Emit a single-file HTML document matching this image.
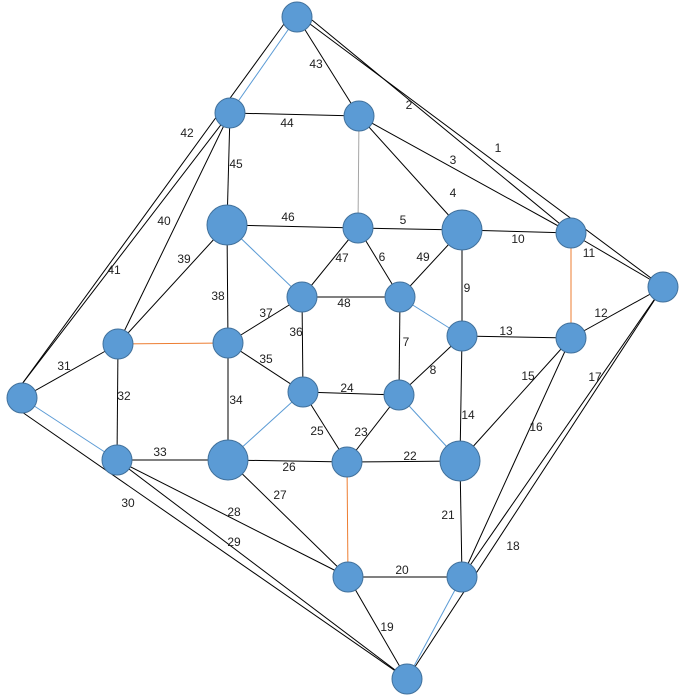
<!DOCTYPE html>
<html><head><meta charset="utf-8"><style>
html,body{margin:0;padding:0;background:#fff;}
svg{display:block;}
text{font-family:"Liberation Sans",sans-serif;font-size:12px;fill:#222;}
</style></head><body>
<svg width="684" height="695" viewBox="0 0 684 695" xmlns="http://www.w3.org/2000/svg">
<g stroke="#000" stroke-width="1" fill="none">
<line x1="310" y1="24" x2="663" y2="287"/>
<line x1="312" y1="20" x2="571" y2="233"/>
<line x1="359" y1="116" x2="571" y2="233"/>
<line x1="359" y1="116" x2="462" y2="230"/>
<line x1="358" y1="228" x2="462" y2="230"/>
<line x1="358" y1="228" x2="400" y2="297"/>
<line x1="400" y1="297" x2="399" y2="395"/>
<line x1="399" y1="395" x2="462" y2="336"/>
<line x1="462" y1="230" x2="462" y2="336"/>
<line x1="462" y1="230" x2="571" y2="233"/>
<line x1="571" y1="233" x2="663" y2="287"/>
<line x1="571" y1="338" x2="663" y2="287"/>
<line x1="462" y1="336" x2="571" y2="338"/>
<line x1="462" y1="336" x2="460" y2="461"/>
<line x1="571" y1="338" x2="460" y2="461"/>
<line x1="571" y1="338" x2="462" y2="577"/>
<line x1="663" y1="287" x2="462" y2="577"/>
<line x1="663" y1="287" x2="407" y2="679"/>
<line x1="348" y1="577" x2="407" y2="679"/>
<line x1="348" y1="577" x2="462" y2="577"/>
<line x1="460" y1="461" x2="462" y2="577"/>
<line x1="347" y1="462" x2="460" y2="461"/>
<line x1="347" y1="462" x2="399" y2="395"/>
<line x1="303" y1="392" x2="399" y2="395"/>
<line x1="303" y1="392" x2="347" y2="462"/>
<line x1="228" y1="460" x2="347" y2="462"/>
<line x1="228" y1="460" x2="348" y2="577"/>
<line x1="117" y1="460" x2="348" y2="577"/>
<line x1="117" y1="460" x2="407" y2="679"/>
<line x1="22" y1="412" x2="407" y2="679"/>
<line x1="22" y1="398" x2="118" y2="344"/>
<line x1="118" y1="344" x2="117" y2="460"/>
<line x1="117" y1="460" x2="228" y2="460"/>
<line x1="228" y1="343" x2="228" y2="460"/>
<line x1="228" y1="343" x2="303" y2="392"/>
<line x1="302" y1="297" x2="303" y2="392"/>
<line x1="228" y1="343" x2="302" y2="297"/>
<line x1="227" y1="225" x2="228" y2="343"/>
<line x1="118" y1="344" x2="227" y2="225"/>
<line x1="118" y1="344" x2="230" y2="113"/>
<line x1="22" y1="384" x2="230" y2="113"/>
<line x1="22" y1="384" x2="284" y2="24"/>
<line x1="297" y1="17" x2="359" y2="116"/>
<line x1="230" y1="113" x2="359" y2="116"/>
<line x1="230" y1="113" x2="227" y2="225"/>
<line x1="227" y1="225" x2="358" y2="228"/>
<line x1="358" y1="228" x2="302" y2="297"/>
<line x1="302" y1="297" x2="400" y2="297"/>
<line x1="400" y1="297" x2="462" y2="230"/>
</g>
<g stroke="#5b9bd5" stroke-width="1">
<line x1="297" y1="17" x2="230" y2="113"/>
<line x1="227" y1="225" x2="302" y2="297"/>
<line x1="400" y1="297" x2="462" y2="336"/>
<line x1="303" y1="392" x2="228" y2="460"/>
<line x1="399" y1="395" x2="460" y2="461"/>
<line x1="22" y1="398" x2="117" y2="460"/>
<line x1="462" y1="577" x2="407" y2="679"/>
</g>
<line x1="359" y1="116" x2="358" y2="228" stroke="#a5a5a5"/>
<g stroke="#ed7d31" stroke-width="1">
<line x1="571" y1="233" x2="571" y2="338"/>
<line x1="118" y1="344" x2="228" y2="343"/>
<line x1="347" y1="462" x2="348" y2="577"/>
</g>
<g fill="#5b9bd5" stroke="#41719c" stroke-width="1">
<circle cx="297" cy="17" r="15"/>
<circle cx="230" cy="113" r="15"/>
<circle cx="359" cy="116" r="15"/>
<circle cx="227" cy="225" r="20"/>
<circle cx="358" cy="228" r="15"/>
<circle cx="462" cy="230" r="20"/>
<circle cx="571" cy="233" r="15"/>
<circle cx="663" cy="287" r="15"/>
<circle cx="302" cy="297" r="15"/>
<circle cx="400" cy="297" r="15"/>
<circle cx="118" cy="344" r="15"/>
<circle cx="228" cy="343" r="15"/>
<circle cx="462" cy="336" r="15"/>
<circle cx="571" cy="338" r="15"/>
<circle cx="22" cy="398" r="15"/>
<circle cx="303" cy="392" r="15"/>
<circle cx="399" cy="395" r="15"/>
<circle cx="117" cy="460" r="15"/>
<circle cx="228" cy="460" r="20"/>
<circle cx="347" cy="462" r="15"/>
<circle cx="460" cy="461" r="20"/>
<circle cx="348" cy="577" r="15"/>
<circle cx="462" cy="577" r="15"/>
<circle cx="407" cy="679" r="15"/>
</g>
<g text-anchor="middle">
<text x="498" y="152">1</text><text x="409" y="109">2</text><text x="453" y="164">3</text>
<text x="453" y="197">4</text><text x="403" y="224">5</text><text x="382" y="261">6</text>
<text x="406" y="346">7</text><text x="433" y="374">8</text><text x="467" y="292">9</text>
<text x="518" y="243">10</text><text x="589" y="257">11</text><text x="601" y="317">12</text>
<text x="506" y="335">13</text><text x="468" y="419">14</text><text x="528" y="380">15</text>
<text x="536" y="431">16</text><text x="595" y="381">17</text><text x="513" y="550">18</text>
<text x="387" y="631">19</text><text x="402" y="574">20</text><text x="448" y="519">21</text>
<text x="410" y="460">22</text><text x="361" y="436">23</text><text x="347" y="392">24</text>
<text x="317" y="435">25</text><text x="289" y="471">26</text><text x="280" y="499">27</text>
<text x="234" y="516">28</text><text x="234" y="546">29</text><text x="128" y="507">30</text>
<text x="64" y="370">31</text><text x="124" y="400">32</text><text x="160" y="456">33</text>
<text x="236" y="404">34</text><text x="266" y="363">35</text><text x="296" y="336">36</text>
<text x="266" y="317">37</text><text x="218" y="300">38</text><text x="184" y="263">39</text>
<text x="164" y="225">40</text><text x="114" y="274">41</text><text x="187" y="137">42</text>
<text x="316" y="68">43</text><text x="287" y="127">44</text><text x="236" y="168">45</text>
<text x="288" y="221">46</text><text x="342" y="262">47</text><text x="344" y="307">48</text>
<text x="423" y="261">49</text>
</g>
</svg>
</body></html>
